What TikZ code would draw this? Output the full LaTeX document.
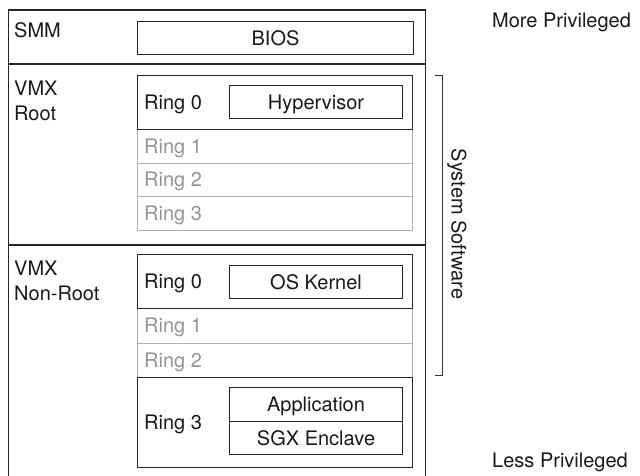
\documentclass[tikz,border=0pt]{standalone}
\usepackage{fontspec}
\setmainfont{TeX Gyre Heros}
\begin{document}
\begin{tikzpicture}[x=1pt,y=-1pt,
  every node/.style={font=\fontsize{20}{25}\selectfont, inner sep=0pt, text=black!90},
  blk/.style={draw=black!85, line width=1.1pt},
  gry/.style={draw=black!30, line width=1pt},
  bx/.style={blk, rectangle, anchor=north west, minimum width=#1, text height=14pt, text depth=0pt},
  rowbox/.style={rectangle, anchor=north west, minimum width=275pt},
  gtxt/.style={text=black!42, anchor=base west},
  btxt/.style={anchor=base west}]
\useasboundingbox (0,0) rectangle (640,475);
% outer frame
\draw[blk] (8.5,480) -- (8.5,10) -- (425.5,10) -- (425.5,480);
\draw[blk] (8.5,64) -- (425.5,64);
\draw[blk] (8.5,245) -- (425.5,245);
% labels
\node[anchor=base west] (smm) at (14,37.5) {SMM};
\node[anchor=north west, align=left] (root) at (14,80.5) {VMX\\Root};
\node[anchor=north west, align=left] (nonroot) at (14,260.5) {VMX\\Non-Root};
% BIOS
\node[bx=276pt, minimum height=33pt] (bios) at (137,21) {BIOS};
% VMX root rings
\node[rowbox, gry, minimum height=34pt] (rr1) at (137,129) {};
\node[rowbox, gry, minimum height=33pt] (rr2) at (137,163) {};
\node[rowbox, gry, minimum height=34pt] (rr3) at (137,196) {};
\node[rowbox, blk, minimum height=54pt] (rr0) at (137,75) {};
\node[bx=173pt, minimum height=33pt] (hyp) at (229,85) {Hypervisor};
\node[btxt] (rr0t) at (144,109) {Ring 0};
\node[gtxt] (rr1t) at (144,153) {Ring 1};
\node[gtxt] (rr2t) at (144,186) {Ring 2};
\node[gtxt] (rr3t) at (144,220) {Ring 3};
% VMX non-root rings
\node[rowbox, gry, minimum height=35pt] (nr1) at (137,308) {};
\node[rowbox, gry, minimum height=34pt] (nr2) at (137,343) {};
\node[rowbox, blk, minimum height=54pt] (nr0) at (137,254) {};
\node[rowbox, blk, minimum height=90pt] (nr3) at (137,377) {};
\node[bx=173pt, minimum height=33pt] (osk) at (229,265) {OS Kernel};
\node[bx=173pt, minimum height=34pt] (app) at (229,387) {Application};
\node[bx=173pt, minimum height=33pt] (sgx) at (229,421) {SGX Enclave};
\node[btxt] (nr0t) at (144,288) {Ring 0};
\node[gtxt] (nr1t) at (144,332) {Ring 1};
\node[gtxt] (nr2t) at (144,367) {Ring 2};
\node[btxt] (nr3t) at (144,429) {Ring 3};
% bracket
\coordinate (bt) at (435,75);
\coordinate (bb) at (435,375);
\draw[draw=black!80, line width=1pt] (bt) -- ++(7,0) |- (bb);
\node[rotate=-90] (sys) at (457,224) {System Software};
% privilege labels
\node[anchor=west] (more) at (492,22) {More Privileged};
\node[anchor=west] (less) at (492,462) {Less Privileged};
\end{tikzpicture}
\end{document}
